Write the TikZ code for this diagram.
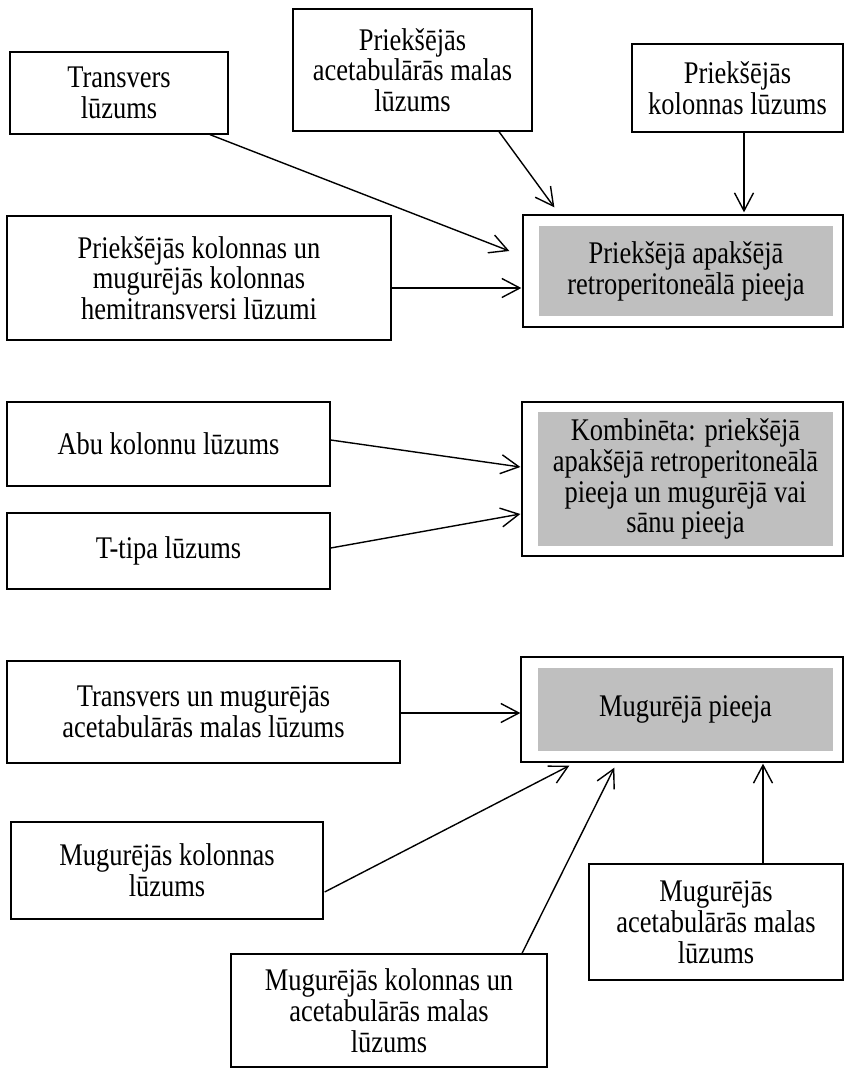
\documentclass[tikz,border=0pt]{standalone}
\usepackage{fontspec}
\setmainfont{Liberation Serif}[FakeStretch=0.84]
\usetikzlibrary{arrows.meta,calc}
\definecolor{boxgray}{HTML}{BFBFBF}
\begin{document}
\begin{tikzpicture}[x=1pt,y=-1pt,
  every node/.style={font=\fontsize{31.5}{30.8}\selectfont},
  srcbox/.style={draw, line width=1.3pt, align=center, inner sep=0pt},
  outerbox/.style={draw, line width=1.3pt, inner sep=0pt},
  graybox/.style={fill=boxgray, align=center, inner sep=0pt},
  arr/.style={line width=1.4pt, -{Straight Barb[length=18pt,width=19pt]}}]
\useasboundingbox (0,0) rectangle (852,1068);

% top section
\node[srcbox, minimum width=218pt, minimum height=82pt] (A) at (119,93) {Transvers\\lūzums};
\node[srcbox, minimum width=239pt, minimum height=122pt] (B) at (412.5,70) {Priekšējās\\acetabulārās malas\\lūzums};
\node[srcbox, minimum width=211pt, minimum height=88pt] (C) at (737.5,88) {Priekšējās\\kolonnas lūzums};
\node[srcbox, minimum width=384pt, minimum height=124pt] (D) at (199,278) {Priekšējās kolonnas un\\mugurējās kolonnas\\hemitransversi lūzumi};
\node[outerbox, minimum width=320pt, minimum height=112pt] (T1) at (683,271) {};
\node[graybox, minimum width=294pt, minimum height=90pt] (T1g) at (686,271) {Priekšējā apakšējā\\retroperitoneālā pieeja};

% middle section
\node[srcbox, minimum width=323pt, minimum height=84pt] (E) at (168.5,444) {Abu kolonnu lūzums};
\node[srcbox, minimum width=323pt, minimum height=76pt] (F) at (168.5,551) {T-tipa lūzums};
\node[outerbox, minimum width=321pt, minimum height=154pt] (T2) at (682.5,479) {};
\node[graybox, minimum width=295pt, minimum height=134pt] (T2g) at (685.5,479) {Kombinēta: priekšējā\\apakšējā retroperitoneālā\\pieeja un mugurējā vai\\sānu pieeja};

% bottom section
\node[srcbox, minimum width=393pt, minimum height=102pt] (G) at (203.5,712) {Transvers un mugurējās\\acetabulārās malas lūzums};
\node[outerbox, minimum width=322pt, minimum height=105pt] (T3) at (682,709.5) {};
\node[graybox, minimum width=295pt, minimum height=83pt] (T3g) at (685.5,709.5) {Mugurējā pieeja};
\node[srcbox, minimum width=312pt, minimum height=97pt] (H) at (167,870.5) {Mugurējās kolonnas\\lūzums};
\node[srcbox, minimum width=316pt, minimum height=113pt] (I) at (389,1010.5) {Mugurējās kolonnas un\\acetabulārās malas\\lūzums};
\node[srcbox, minimum width=254pt, minimum height=116pt] (J) at (716,922) {Mugurējās\\acetabulārās malas\\lūzums};

% connectors
\draw[arr] ($(A.south)+(91,0)$) -- ($(T1.west)+(-13,-20)$);
\draw[arr] ($(B.south)+(86.5,0)$) -- ($(T1.north west)+(32,-7)$);
\draw[arr] ($(C.south)+(6.5,0)$) -- ($(T1.north)+(61,-2)$);
\draw[arr] ($(D.east)+(0,10)$) -- ($(T1.west)+(-1,17)$);

\draw[arr] ($(E.east)+(0,-4)$) -- ($(T2.west)+(-1,-12)$);
\draw[arr] ($(F.east)+(0,-3)$) -- ($(T2.west)+(-1,35)$);

\draw[arr] ($(G.east)+(0,1)$) -- ($(T3.west)+(0,3.5)$);
\draw[arr] ($(H.east)+(1,21.5)$) -- ($(T3.south west)+(49,3)$);
\draw[arr] ($(I.north)+(133,0)$) -- ($(T3.south west)+(94,5)$);
\draw[arr] ($(J.north)+(47,0)$) -- ($(T3.south)+(81,1)$);
\end{tikzpicture}
\end{document}
